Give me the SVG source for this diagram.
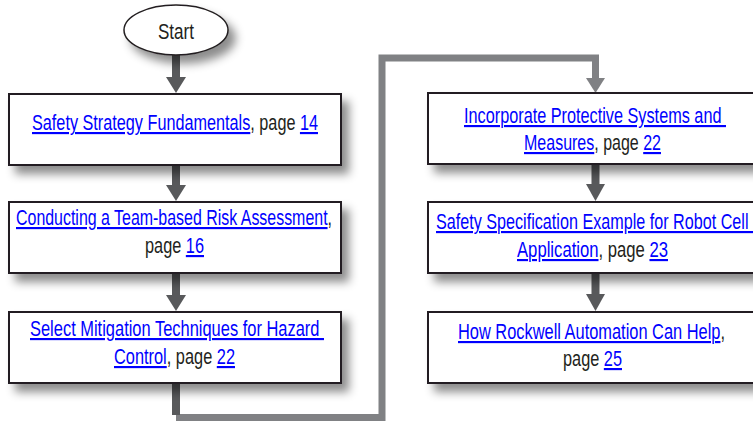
<svg xmlns="http://www.w3.org/2000/svg" width="753" height="421" viewBox="0 0 753 421">
<defs>
<filter id="sh" x="-10%" y="-20%" width="130%" height="160%">
<feDropShadow dx="7" dy="8" stdDeviation="5" flood-color="#000" flood-opacity="0.45"/>
</filter>
</defs>
<style>
.box{fill:#fff;stroke:#231f20;stroke-width:2;filter:url(#sh)}
.t{font-family:"Liberation Sans Narrow","Liberation Sans",Arial,sans-serif;font-size:21.5px;fill:#231f20;white-space:pre}
.l{fill:#0000ff;text-decoration:underline}
.dk{fill:#58595b}
.gr{fill:none;stroke:#808184;stroke-width:7}
.grh{fill:#808184}
</style>
<rect width="753" height="421" fill="#fff"/>
<g id="connectors">
<rect class="dk" x="172" y="55" width="8" height="24"/>
<polygon class="dk" points="166,77 186,77 176,93"/>
<rect class="dk" x="172" y="165" width="8" height="22"/>
<polygon class="dk" points="166,185 186,185 176,201"/>
<rect class="dk" x="172" y="273" width="8" height="24"/>
<polygon class="dk" points="166,295 186,295 176,311"/>
<path class="gr" d="M176,417.5 H382 V58 H595.5 V80"/>
<rect class="dk" x="172" y="383" width="8" height="32"/>
<polygon class="grh" points="586,78 605,78 595.5,93"/>
<rect class="dk" x="591.5" y="164" width="8" height="22"/>
<polygon class="dk" points="586,184 605,184 595.5,201"/>
<rect class="dk" x="591.5" y="273" width="8" height="23"/>
<polygon class="dk" points="586,294 605,294 595.5,311"/>
</g>
<g id="start">
<ellipse cx="176" cy="30" rx="52" ry="25" fill="#fff" stroke="#231f20" stroke-width="1.5" filter="url(#sh)"/>
<text class="t" x="158" y="39" textLength="36" lengthAdjust="spacingAndGlyphs">Start</text>
</g>
<g id="n1">
<rect class="box" x="9" y="94" width="332" height="71"/>
<text class="t" x="32" y="130" textLength="286" lengthAdjust="spacingAndGlyphs"><tspan class="l">Safety Strategy Fundamentals</tspan>, page <tspan class="l">14</tspan></text>
</g>
<g id="n2">
<rect class="box" x="9" y="202" width="332" height="71"/>
<text class="t" x="16" y="225" textLength="316" lengthAdjust="spacingAndGlyphs"><tspan class="l">Conducting a Team-based Risk Assessment</tspan>,</text>
<text class="t" x="145" y="253" textLength="59" lengthAdjust="spacingAndGlyphs">page <tspan class="l">16</tspan></text>
</g>
<g id="n3">
<rect class="box" x="9" y="312" width="332" height="71"/>
<text class="t" x="30" y="336" textLength="294" lengthAdjust="spacingAndGlyphs"><tspan class="l">Select Mitigation Techniques for Hazard </tspan></text>
<text class="t" x="114" y="364" textLength="121" lengthAdjust="spacingAndGlyphs"><tspan class="l">Control</tspan>, page <tspan class="l">22</tspan></text>
</g>
<g id="n4">
<rect class="box" x="428" y="93" width="334" height="71"/>
<text class="t" x="464" y="123" textLength="262" lengthAdjust="spacingAndGlyphs"><tspan class="l">Incorporate Protective Systems and </tspan></text>
<text class="t" x="524" y="150" textLength="137" lengthAdjust="spacingAndGlyphs"><tspan class="l">Measures</tspan>, page <tspan class="l">22</tspan></text>
</g>
<g id="n5">
<rect class="box" x="428" y="202" width="334" height="71"/>
<text class="t" x="436" y="229" textLength="317" lengthAdjust="spacingAndGlyphs"><tspan class="l">Safety Specification Example for Robot Cell </tspan></text>
<text class="t" x="517" y="257" textLength="151" lengthAdjust="spacingAndGlyphs"><tspan class="l">Application</tspan>, page <tspan class="l">23</tspan></text>
</g>
<g id="n6">
<rect class="box" x="428" y="312" width="334" height="71"/>
<text class="t" x="458" y="339" textLength="267" lengthAdjust="spacingAndGlyphs"><tspan class="l">How Rockwell Automation Can Help</tspan>,</text>
<text class="t" x="563" y="366" textLength="59" lengthAdjust="spacingAndGlyphs">page <tspan class="l">25</tspan></text>
</g>
</svg>
